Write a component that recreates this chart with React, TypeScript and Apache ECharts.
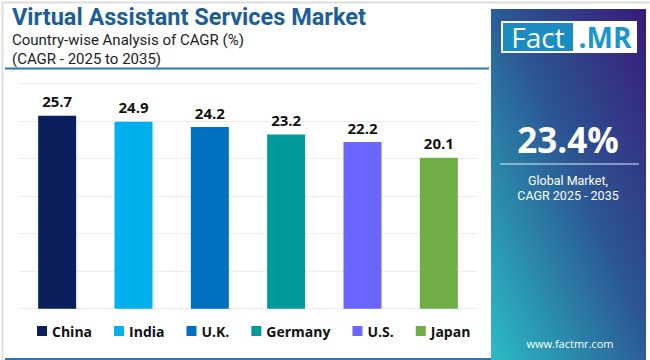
import React, { useEffect, useRef } from "react";
import * as echarts from "echarts";

const categories = ["China", "India", "U.K.", "Germany", "U.S.", "Japan"];
const values = [25.7, 24.9, 24.2, 23.2, 22.2, 20.1];
const colors = ["#0a1f5c", "#00b0ec", "#0070c0", "#009a9a", "#6a66ff", "#70ad47"];
const titleText = "Virtual Assistant Services Market";
const subtitle1 = "Country-wise Analysis of CAGR (%)";
const subtitle2 = "(CAGR - 2025 to 2035)";
const globalValue = "23.4%";
const globalLabel = ["Global Market,", "CAGR 2025 - 2035"];
const yTicks = { min: 0, max: 30, interval: 5 };

const FONT = "'Open Sans', 'Noto Sans', sans-serif";
const FONT2 = "Roboto, 'Liberation Sans', sans-serif";

function txt(x: number, y: number, text: string, size: number, color: string, weight: string, align = "left", vAlign = "middle", family = FONT) {
  return {
    type: "text",
    x,
    y,
    style: {
      text,
      fill: color,
      fontSize: size,
      fontFamily: family,
      fontWeight: weight,
      lineHeight: Math.round(size * 1.05),
      align,
      verticalAlign: vAlign,
    },
  };
}

export default function App() {
  const ref = useRef<HTMLDivElement>(null);
  useEffect(() => {
    if (!ref.current) return;
    const chart = echarts.init(ref.current, undefined, { renderer: "svg" });
    const series = categories.map((c, i) => ({
      name: c,
      type: "bar",
      stack: "all",
      barWidth: 38,
      data: values.map((v, j) => (j === i ? v : "-")),
      itemStyle: { color: colors[i] },
      label: {
        show: true,
        position: "top",
        distance: 7,
        formatter: (p: any) => String(p.value),
        color: "#111",
        fontWeight: "bold",
        fontSize: 15,
        fontFamily: FONT,
      },
    }));
    chart.setOption({
      animation: false,
      backgroundColor: "#ffffff",
      grid: { left: 19, right: 173, top: 83.5, bottom: 51.3 },
      xAxis: {
        type: "category",
        data: categories,
        axisLine: { show: false },
        axisTick: { show: false },
        axisLabel: { show: false },
      },
      yAxis: {
        type: "value",
        min: yTicks.min,
        max: yTicks.max,
        interval: yTicks.interval,
        axisLabel: { show: false },
        axisLine: { show: false },
        axisTick: { show: false },
        splitLine: { lineStyle: { color: "#ececec", width: 1 } },
      },
      legend: {
        data: categories,
        left: 37,
        top: 324,
        padding: 0,
        itemWidth: 10,
        itemHeight: 10,
        itemGap: 22,
        icon: "rect",
        textStyle: { color: "#111", fontWeight: "bold", fontSize: 14, fontFamily: FONT },
      },
      series,
      graphic: [
        { type: "rect", left: 0, top: 0, shape: { width: 650, height: 360 }, style: { fill: "none", stroke: "#dddddd", lineWidth: 2 }, silent: true },
        txt(12, 16.5, titleText, 23.5, "#1b5e98", "bold", "left", "middle", FONT2),
        txt(12, 39.5, subtitle1, 15, "#222", "normal", "left", "middle", FONT2),
        txt(12, 58.5, subtitle2, 15, "#222", "normal", "left", "middle", FONT2),
        { type: "line", shape: { x1: 5, y1: 68.5, x2: 489, y2: 68.5 }, style: { stroke: "#2d74ad", lineWidth: 2 } },
        { type: "line", shape: { x1: 5, y1: 359, x2: 491, y2: 359 }, style: { stroke: "#2d74ad", lineWidth: 2 } },
        {
          type: "rect",
          shape: { x: 491, y: 9, width: 155, height: 351 },
          style: {
            fill: new echarts.graphic.LinearGradient(1, 0, 0, 1, [
              { offset: 0, color: "#3a1a78" },
              { offset: 0.45, color: "#2b5593" },
              { offset: 1, color: "#2bbcc4" },
            ]),
          },
        },
        { type: "rect", shape: { x: 501, y: 21, width: 136, height: 32 }, style: { fill: "#ffffff" } },
        { type: "rect", shape: { x: 503, y: 23, width: 70, height: 28 }, style: { fill: "#1a8cc0" } },
        txt(538, 37, "Fact", 28, "#ffffff", "normal", "center", "middle"),
        txt(605, 37, ".MR", 28, "#1a96cf", "bold", "center", "middle"),
        txt(568, 139, globalValue, 35, "#ffffff", "bold", "center", "middle"),
        { type: "line", shape: { x1: 500, y1: 164, x2: 639, y2: 164 }, style: { stroke: "rgba(255,255,255,0.6)", lineWidth: 1.5 } },
        txt(568, 180, globalLabel[0], 12.5, "#ffffff", "normal", "center", "middle", FONT2),
        txt(568, 195, globalLabel[1], 12.5, "#ffffff", "normal", "center", "middle", FONT2),
        txt(570, 343, "www.factmr.com", 11, "#ffffff", "normal", "center", "middle"),
      ],
    });
    return () => chart.dispose();
  }, []);
  return <div ref={ref} style={{ position: "absolute", left: 0, top: 0, width: 650, height: 360 }} />;
}
